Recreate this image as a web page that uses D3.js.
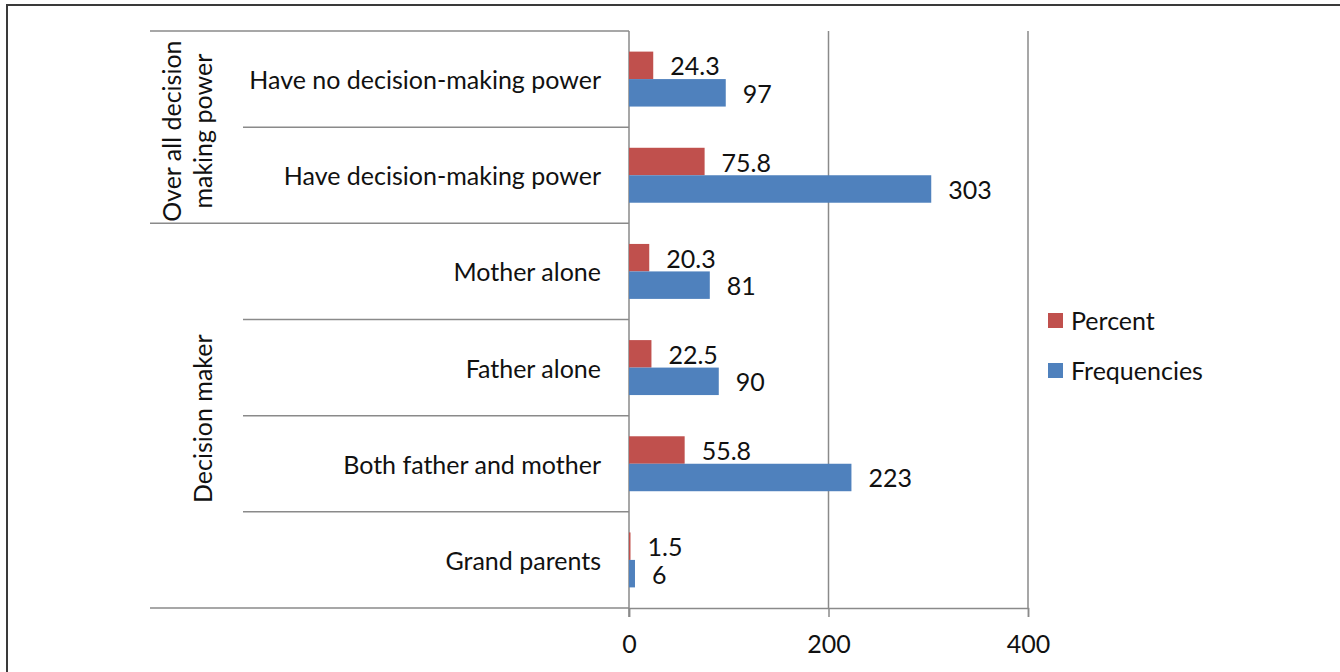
<!DOCTYPE html>
<html>
<head>
<meta charset="utf-8">
<script src="https://cdn.jsdelivr.net/npm/d3@7"></script>
<style>
  html, body { margin: 0; padding: 0; background: #fff; }
  svg { display: block; }
  text { font-family: Lato, "Open Sans", sans-serif; fill: #111; }
</style>
</head>
<body>
<svg id="chart" width="1340" height="672"></svg>
<script>
// ---- data ----
const categories = [
  "Have no decision-making power",
  "Have decision-making power",
  "Mother alone",
  "Father alone",
  "Both father and mother",
  "Grand parents"
];
const groups = [
  { name: ["Over all decision", "making power"], start: 0, end: 2 },
  { name: ["Decision maker"], start: 2, end: 6 }
];
const seriesNames = ["Percent", "Frequencies"];
const percentValues = [24.3, 75.8, 20.3, 22.5, 55.8, 1.5];
const frequencyValues = [97, 303, 81, 90, 223, 6];
const tickValues = [0, 200, 400];
const seriesColors = ["#C0504D", "#4F81BD"];

// ---- layout ----
const svg = d3.select("#chart");
const fontSize = 25;
const gridColor = "#8a8a8a";
const plotTop = 31, plotBottom = 608;
const x = d3.scaleLinear().domain([0, 400]).range([629, 1028]);
const y = d3.scaleBand().domain(categories).range([plotTop, plotBottom]).padding(0);
const ySub = d3.scaleBand().domain(seriesNames).range([0, y.bandwidth()])
  .paddingInner(0).paddingOuter(0.75);
const color = d3.scaleOrdinal().domain(seriesNames).range(seriesColors);

// outer border (top and left)
svg.append("path")
  .attr("d", "M7,672 L7,5 L1340,5")
  .attr("fill", "none").attr("stroke", "#3a3a3a").attr("stroke-width", 2);

// gridlines
svg.append("g").selectAll("line").data(tickValues.slice(1)).join("line")
  .attr("x1", d => x(d)).attr("x2", d => x(d))
  .attr("y1", plotTop).attr("y2", plotBottom)
  .attr("stroke", gridColor).attr("stroke-width", 1.5);

// x axis
const xAxis = d3.axisBottom(x).tickValues(tickValues).tickSize(9).tickPadding(18)
  .tickFormat(d3.format("d"));
const gx = svg.append("g").attr("transform", `translate(0,${plotBottom})`).call(xAxis);
gx.select(".domain").attr("stroke", gridColor).attr("stroke-width", 1.5);
gx.selectAll(".tick line").attr("stroke", gridColor).attr("stroke-width", 1.5);
gx.selectAll(".tick text").attr("font-size", fontSize).attr("font-family", "Lato")
  .attr("fill", "#111");

// vertical axis line at 0
svg.append("line")
  .attr("x1", x(0)).attr("x2", x(0))
  .attr("y1", plotTop).attr("y2", plotBottom + 9)
  .attr("stroke", gridColor).attr("stroke-width", 1.5);

// multi-level category axis lines
const boundaries = d3.range(categories.length + 1).map(i =>
  i < categories.length ? y(categories[i]) : plotBottom);
const groupBounds = new Set(groups.flatMap(g => [g.start, g.end]));
svg.append("g").selectAll("line").data(boundaries).join("line")
  .attr("x1", (d, i) => groupBounds.has(i) ? 150 : 243)
  .attr("x2", x(0))
  .attr("y1", d => d).attr("y2", d => d)
  .attr("stroke", gridColor).attr("stroke-width", 1.5);

// category labels
svg.append("g").selectAll("text").data(categories).join("text")
  .attr("x", 601)
  .attr("y", d => y(d) + y.bandwidth() / 2)
  .attr("text-anchor", "end")
  .attr("dominant-baseline", "central")
  .attr("font-size", fontSize)
  .text(d => d);

// group labels (rotated)
groups.forEach(g => {
  const cy = (boundaries[g.start] + boundaries[g.end]) / 2 + (g.name.length > 1 ? 4 : 3);
  const lineH = 31;
  const cx = g.name.length > 1 ? 186 : 202;
  const t = svg.append("text")
    .attr("transform", `translate(${cx},${cy}) rotate(-90)`)
    .attr("text-anchor", "middle")
    .attr("font-size", fontSize);
  g.name.forEach((line, i) => {
    t.append("tspan")
      .attr("x", 0)
      .attr("y", (i - (g.name.length - 1) / 2) * lineH)
      .attr("dominant-baseline", "central")
      .text(line);
  });
});

// bars
const rows = categories.map((c, i) => ({
  category: c,
  values: [
    { series: "Percent", value: percentValues[i] },
    { series: "Frequencies", value: frequencyValues[i] }
  ]
}));
const rowG = svg.append("g").selectAll("g").data(rows).join("g")
  .attr("transform", d => `translate(0,${y(d.category)})`);
rowG.selectAll("rect").data(d => d.values).join("rect")
  .attr("x", x(0))
  .attr("y", d => ySub(d.series))
  .attr("width", d => x(d.value) - x(0))
  .attr("height", ySub.bandwidth())
  .attr("fill", d => color(d.series));
rowG.selectAll("text").data(d => d.values).join("text")
  .attr("x", d => x(d.value) + 17)
  .attr("y", d => ySub(d.series) + ySub.bandwidth() / 2)
  .attr("dominant-baseline", "central")
  .attr("font-size", fontSize)
  .text(d => d.value);

// legend
const legend = svg.append("g").selectAll("g").data(seriesNames).join("g")
  .attr("transform", (d, i) => `translate(1048,${313 + i * 50})`);
legend.append("rect").attr("width", 15).attr("height", 15)
  .attr("fill", d => color(d));
legend.append("text").attr("x", 23).attr("y", 6.5)
  .attr("dominant-baseline", "central")
  .attr("font-size", fontSize)
  .text(d => d);
</script>
</body>
</html>
